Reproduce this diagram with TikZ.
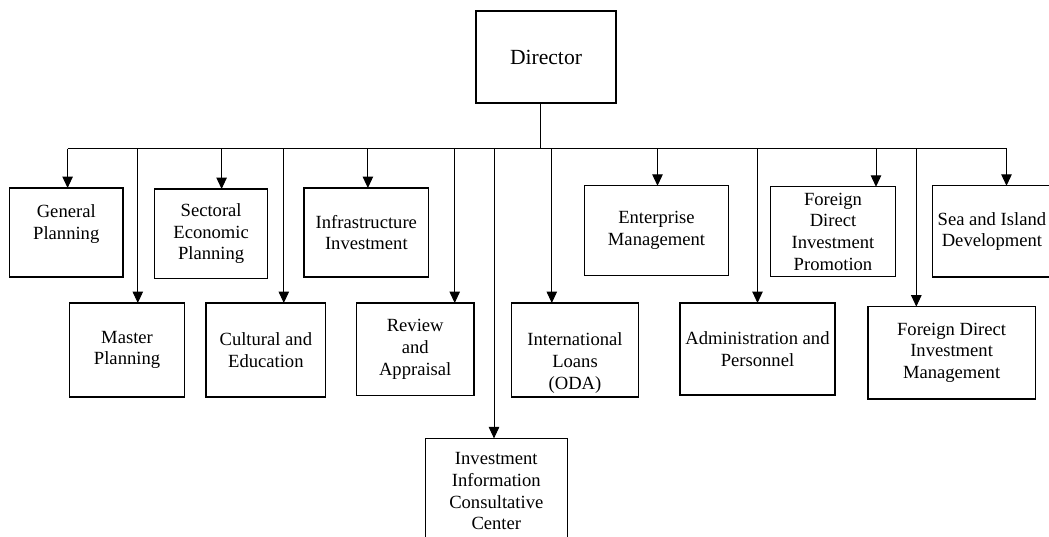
\documentclass[tikz,border=0pt]{standalone}
\usepackage{fontspec}
\setmainfont{Liberation Serif}
\usetikzlibrary{arrows.meta}

\newcommand\unitfont{\fontsize{18.6}{21.7}\selectfont}
\newcommand\headfont{\fontsize{21.6}{25}\selectfont}

\tikzset{
  unitbox/.style={draw=black, line width=1.1pt, inner sep=0pt, outer sep=0pt,
                  align=center, font=\unitfont},
  unitlabel/.style={inner sep=0pt, align=center, font=\unitfont},
  link/.style={draw=black, line width=1pt},
  drop/.style={link, -{Triangle[width=10.5pt,length=11.5pt]}},
}

\begin{document}
\begin{tikzpicture}[x=1pt, y=-1pt]
  \useasboundingbox (0,0) rectangle (1049,536);
  \clip (0,0) rectangle (1049,536);
  \fill[white] (0,0) rectangle (1049,536);

  % head of the organisation
  \node[unitbox, font=\headfont, minimum width=140pt, minimum height=92pt]
    (dir) at (546,57) {Director};

  % upper row of units
  \node[unitbox, minimum width=113.5pt, minimum height=89pt] (gp) at (66.25,232.5) {};
  \node[unitlabel] (gp-t) at (66.25,224) {General\\Planning};
  \node[unitbox, minimum width=112.9pt, minimum height=89.6pt] (sep) at (211.15,233.8)
    {Sectoral\\Economic\\Planning};
  \node[unitbox, minimum width=124.7pt, minimum height=89pt] (ii) at (366.35,232.5)
    {Infrastructure\\Investment};
  \node[unitbox, minimum width=144.6pt, minimum height=89.4pt] (em) at (656.5,230.5)
    {Enterprise\\Management};
  \node[unitbox, minimum width=124.6pt, minimum height=89.4pt] (fdip) at (833,231.5)
    {Foreign\\Direct\\Investment\\Promotion};
  \node[unitbox, minimum width=118.2pt, minimum height=91.2pt] (sid) at (991.9,231.4)
    {Sea and Island\\Development};

  % lower row of units
  \node[unitbox, minimum width=115.5pt, minimum height=94pt] (mp) at (127.05,350)
    {Master\\Planning};
  \node[unitbox, minimum width=119.7pt, minimum height=94pt] (ce) at (265.85,350)
    {Cultural and\\Education};
  \node[unitbox, minimum width=117.6pt, minimum height=92.5pt] (ra) at (415.2,349.25)
    {Review\\and\\Appraisal};
  \node[unitbox, minimum width=126.4pt, minimum height=94pt] (il) at (575,350) {};
  \node[unitlabel] (il-t) at (575,363) {International\\Loans\\(ODA)};
  \node[unitbox, minimum width=155pt, minimum height=92pt] (ap) at (757.5,349)
    {Administration and\\Personnel};
  \node[unitbox, minimum width=167.2pt, minimum height=92.4pt] (fdim) at (951.6,352.8)
    {Foreign Direct\\Investment\\Management};

  % bottom unit
  \node[unitbox, minimum width=142pt, minimum height=105.6pt] (iic) at (496.3,491.2)
    {Investment\\Information\\Consultative\\Center};

  % distribution bar and its tap points
  \coordinate (stem) at (540.6,148.6);
  \coordinate (t1)  at (67.6,148.6);
  \coordinate (t2)  at (137.8,148.6);
  \coordinate (t3)  at (221.6,148.6);
  \coordinate (t4)  at (283.8,148.6);
  \coordinate (t5)  at (367.9,148.6);
  \coordinate (t6)  at (454.7,148.6);
  \coordinate (t7)  at (494,148.6);
  \coordinate (t8)  at (551.8,148.6);
  \coordinate (t9)  at (657.5,148.6);
  \coordinate (t10) at (757.5,148.6);
  \coordinate (t11) at (876,148.6);
  \coordinate (t12) at (916.3,148.6);
  \coordinate (t13) at (1006.5,148.6);

  \draw[link] (stem |- dir.south) -- (stem);
  \draw[link] (t1) -- (t13);

  % drops to each unit
  \draw[drop] (t1)  -- (t1  |- gp.north);
  \draw[drop] (t2)  -- (t2  |- mp.north);
  \draw[drop] (t3)  -- (t3  |- sep.north);
  \draw[drop] (t4)  -- (t4  |- ce.north);
  \draw[drop] (t5)  -- (t5  |- ii.north);
  \draw[drop] (t6)  -- (t6  |- ra.north);
  \draw[drop] (t7)  -- (t7  |- iic.north);
  \draw[drop] (t8)  -- (t8  |- il.north);
  \draw[drop] (t9)  -- (t9  |- em.north);
  \draw[drop] (t10) -- (t10 |- ap.north);
  \draw[drop] (t11) -- (t11 |- fdip.north);
  \draw[drop] (t12) -- (t12 |- fdim.north);
  \draw[drop] (t13) -- (t13 |- sid.north);
\end{tikzpicture}
\end{document}
